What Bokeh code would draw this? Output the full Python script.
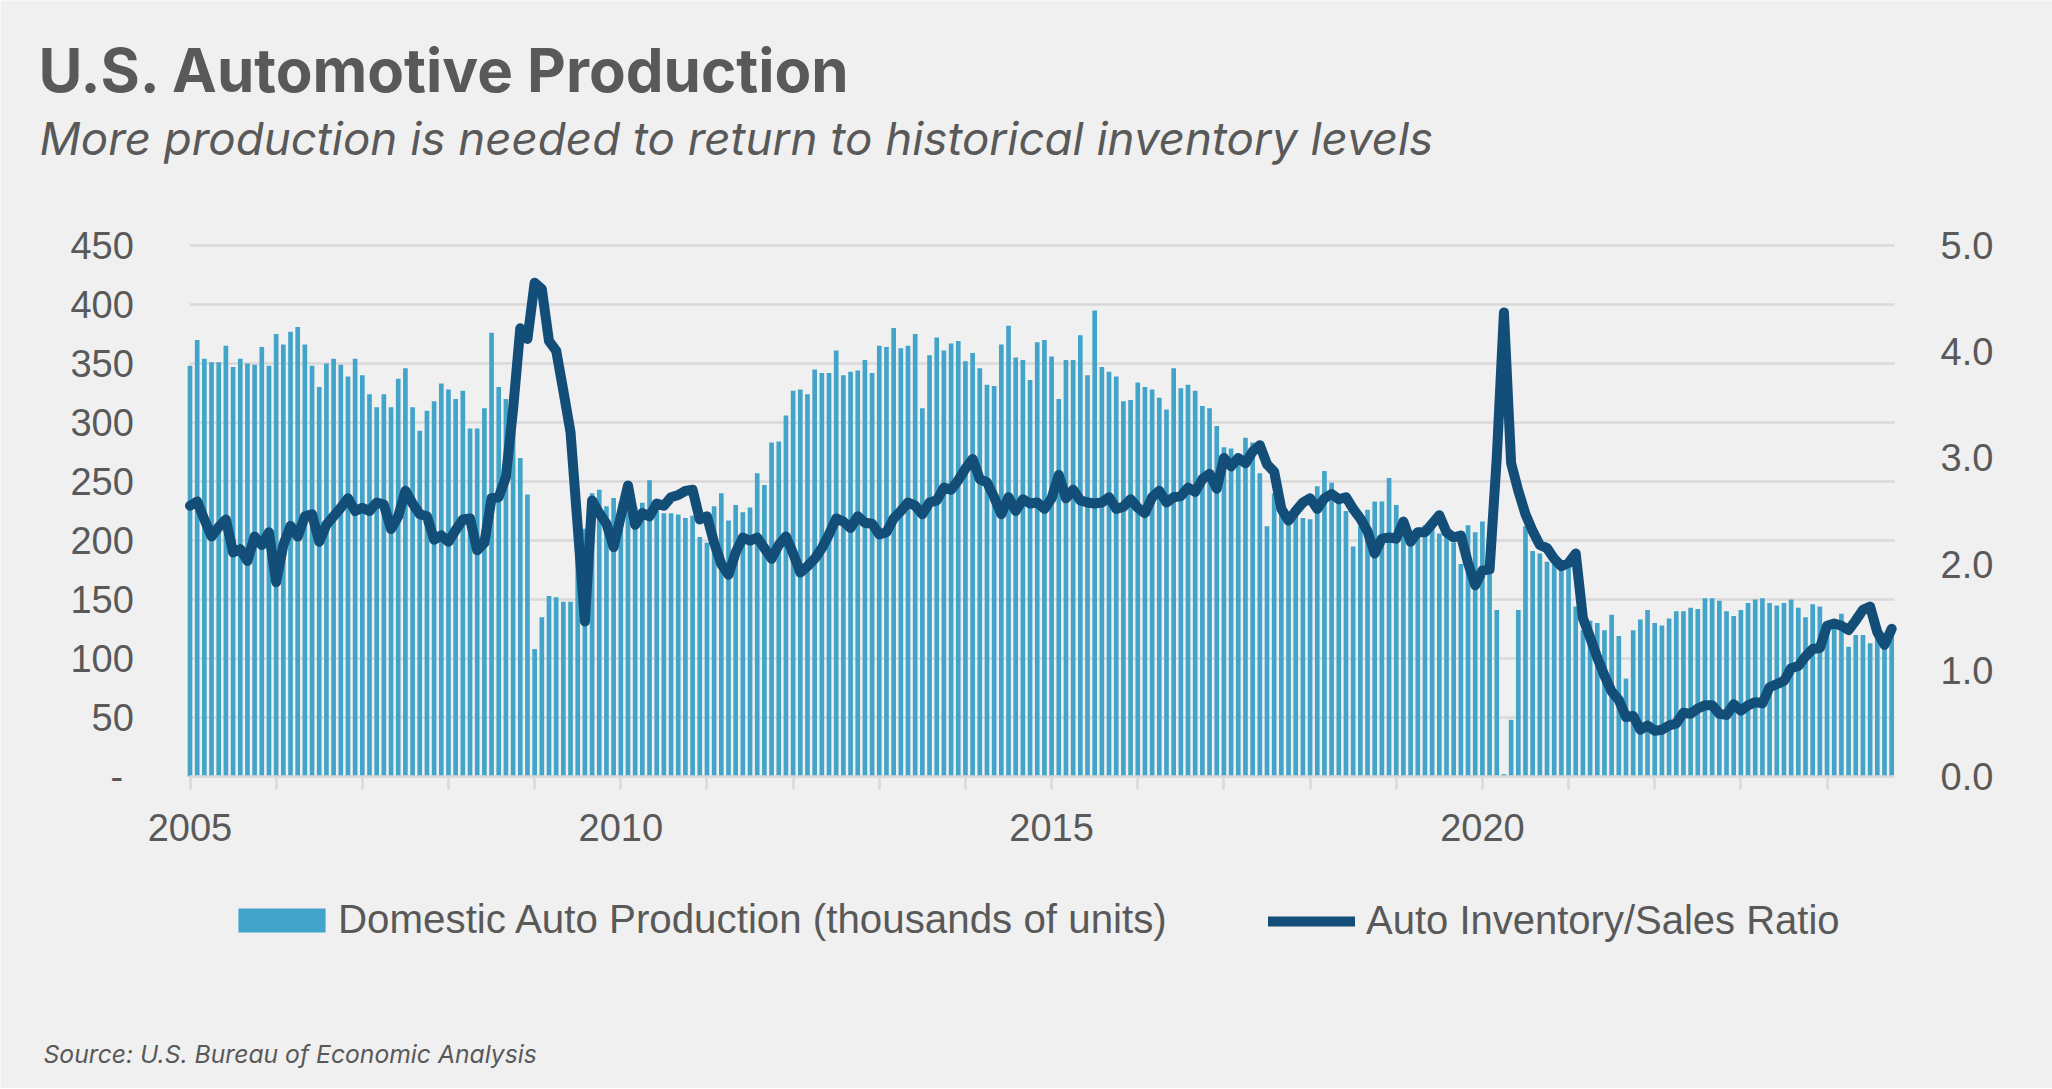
from bokeh.plotting import figure
from bokeh.models import (Range1d, LinearAxis, FixedTicker, Label, Legend, LegendItem,
                          ColumnDataSource, NumeralTickFormatter)
from bokeh.embed import file_html
from bokeh.resources import INLINE

# ---------------- data (monthly, Jan 2005 - Oct 2024) ----------------
start_year = 2005
n_months = 238
month_labels = [f"{start_year + i // 12}-{i % 12 + 1:02d}" for i in range(n_months)]
month_index = list(range(n_months))

production = [
    348, 370, 354, 351, 351, 365, 347, 354, 350, 349, 364, 348,   # 2005
    375, 366, 377, 381, 366, 348, 330, 350, 354, 349, 339, 354,   # 2006
    340, 324, 313, 324, 313, 337, 346, 313, 293, 310, 318, 333,   # 2007
    328, 320, 327, 295, 295, 312, 376, 330, 320, 300, 270, 239,   # 2008
    108, 135, 153, 152, 148, 148, 190, 210, 240, 243, 229, 236,   # 2009
    232, 240, 228, 232, 251, 225, 223, 223, 222, 219, 221, 203,   # 2010
    198, 229, 240, 217, 230, 224, 228, 257, 247, 283, 284, 306,   # 2011
    327, 328, 324, 345, 342, 342, 361, 340, 343, 344, 353, 342,   # 2012
    365, 364, 380, 363, 365, 375, 312, 357, 372, 361, 367, 369,   # 2013
    352, 359, 346, 332, 331, 366, 382, 355, 353, 336, 368, 370,   # 2014
    356, 320, 353, 353, 374, 340, 395, 347, 343, 339, 318, 319,   # 2015
    334, 330, 328, 321, 311, 346, 329, 332, 327, 314, 312, 297,   # 2016
    279, 278, 272, 287, 283, 257, 212, 240, 225, 215, 225, 219,   # 2017
    218, 246, 259, 249, 238, 225, 195, 212, 226, 233, 233, 253,   # 2018
    230, 204, 199, 202, 213, 211, 206, 204, 198, 180, 213, 207,   # 2019
    216, 195, 141, 2, 48, 141, 212, 191, 189, 182, 180, 178,      # 2020
    180, 144, 124, 132, 130, 124, 137, 119, 83, 124, 133, 141,    # 2021
    130, 128, 134, 140, 140, 143, 142, 151, 151, 149, 140, 136,   # 2022
    141, 147, 150, 151, 147, 145, 147, 150, 143, 135, 146, 144,   # 2023
    125, 127, 138, 110, 120, 120, 113, 122, 118, 122,             # 2024
]

inventory_sales_ratio = [
    2.55, 2.59, 2.42, 2.26, 2.35, 2.42, 2.11, 2.14, 2.03, 2.26, 2.18, 2.30,   # 2005
    1.83, 2.18, 2.36, 2.26, 2.45, 2.47, 2.21, 2.37, 2.45, 2.53, 2.62, 2.50,   # 2006
    2.53, 2.50, 2.58, 2.56, 2.33, 2.45, 2.69, 2.57, 2.47, 2.45, 2.23, 2.27,   # 2007
    2.21, 2.32, 2.42, 2.43, 2.13, 2.20, 2.62, 2.63, 2.82, 3.46, 4.22, 4.12,   # 2008
    4.65, 4.59, 4.10, 4.01, 3.63, 3.24, 2.35, 1.46, 2.60, 2.48, 2.38, 2.16,   # 2009
    2.45, 2.74, 2.37, 2.48, 2.45, 2.57, 2.55, 2.63, 2.65, 2.69, 2.70, 2.42,   # 2010
    2.45, 2.20, 2.00, 1.90, 2.11, 2.25, 2.22, 2.25, 2.15, 2.05, 2.18, 2.26,   # 2011
    2.10, 1.92, 1.98, 2.05, 2.15, 2.28, 2.43, 2.40, 2.34, 2.45, 2.39, 2.38,   # 2012
    2.28, 2.30, 2.43, 2.50, 2.58, 2.55, 2.47, 2.58, 2.60, 2.72, 2.70, 2.79,   # 2013
    2.90, 2.99, 2.80, 2.77, 2.63, 2.47, 2.63, 2.50, 2.61, 2.57, 2.58, 2.52,   # 2014
    2.62, 2.84, 2.62, 2.70, 2.60, 2.58, 2.57, 2.58, 2.63, 2.52, 2.54, 2.61,   # 2015
    2.53, 2.48, 2.63, 2.69, 2.58, 2.63, 2.64, 2.72, 2.68, 2.80, 2.85, 2.71,   # 2016
    3.00, 2.92, 3.00, 2.95, 3.06, 3.12, 2.94, 2.87, 2.52, 2.41, 2.50, 2.58,   # 2017
    2.62, 2.52, 2.62, 2.66, 2.61, 2.63, 2.52, 2.43, 2.31, 2.10, 2.24, 2.25,   # 2018
    2.24, 2.40, 2.21, 2.30, 2.30, 2.38, 2.46, 2.30, 2.25, 2.27, 2.01, 1.80,   # 2019
    1.94, 1.95, 3.00, 4.37, 2.95, 2.69, 2.47, 2.31, 2.18, 2.15, 2.05, 1.98,   # 2020
    2.01, 2.10, 1.49, 1.31, 1.12, 0.95, 0.80, 0.72, 0.56, 0.57, 0.44, 0.48,   # 2021
    0.43, 0.44, 0.48, 0.50, 0.60, 0.59, 0.64, 0.67, 0.67, 0.59, 0.58, 0.68,   # 2022
    0.62, 0.67, 0.70, 0.69, 0.84, 0.87, 0.90, 1.02, 1.04, 1.13, 1.20, 1.21,   # 2023
    1.42, 1.44, 1.42, 1.38, 1.47, 1.57, 1.60, 1.36, 1.24, 1.39,               # 2024
]

left_ticks = [0, 50, 100, 150, 200, 250, 300, 350, 400, 450]
right_ticks = [0, 1, 2, 3, 4, 5]
year_ticks = list(range(0, n_months, 12))
year_tick_labels = {0: "2005", 60: "2010", 120: "2015", 180: "2020"}

title_text = "U.S. Automotive Production"
subtitle_text = "More production is needed to return to historical inventory levels"
source_text = "Source: U.S. Bureau of Economic Analysis"
bar_label = "Domestic Auto Production (thousands of units)"
line_label = "Auto Inventory/Sales Ratio"

# ---------------- style / layout ----------------
BG = "#f0f0f0"
BAR = "#43a4c9"
LINE = "#134e78"
GRID = "#d9d9d9"
TEXT = "#595959"
TICK_FONT = "Liberation Sans"
TITLE_FONT = "Inter"

W, H = 2052, 1088
# plot area in page pixels
PX_M0, PX_PER_MONTH = 189.5, 7.18        # x pixel of first month, pixels per month
PY_ZERO, PX_PER_UNIT = 776.0, 531.0 / 450.0
X_MIN, X_MAX = -0.03, 237.4              # plot-area extent in months
LEFT_MAX, RIGHT_MAX = 450.0, 5.0

x_start = -PX_M0 / PX_PER_MONTH
x_end = (W - PX_M0) / PX_PER_MONTH
y_top = PY_ZERO / PX_PER_UNIT
y_bot = (PY_ZERO - H) / PX_PER_UNIT
ratio_scale = RIGHT_MAX / LEFT_MAX

src = ColumnDataSource(dict(m=month_index, label=month_labels,
                            prod=production, ratio=inventory_sales_ratio))

p = figure(width=W, height=H, output_backend="svg", toolbar_location=None,
           x_range=Range1d(x_start, x_end), y_range=Range1d(y_bot, y_top), title=None,
           min_border=0, min_border_left=0, min_border_right=0,
           min_border_top=0, min_border_bottom=0,
           background_fill_color=BG, border_fill_color=BG, outline_line_color=None)
p.extra_y_ranges = {"ratio": Range1d(y_bot * ratio_scale, y_top * ratio_scale)}
p.grid.visible = False

# horizontal grid lines across the plot area only
p.segment(x0=[X_MIN] * len(left_ticks), x1=[X_MAX] * len(left_ticks),
          y0=left_ticks, y1=left_ticks, line_color=GRID, line_width=2.5)

bars = p.vbar(x="m", top="prod", width=0.65, source=src, fill_color=BAR, line_color=None)
line = p.line(x="m", y="ratio", source=src, y_range_name="ratio", line_color=LINE,
              line_width=10, line_join="round", line_cap="round")

# left axis
yl = p.yaxis[0]
yl.fixed_location = X_MIN
yl.ticker = FixedTicker(ticks=left_ticks)
yl.major_label_overrides = {0: "-\u00a0"}
yl.axis_line_color = None
yl.major_tick_line_color = None
yl.minor_tick_line_color = None
yl.major_label_text_font = TICK_FONT
yl.major_label_text_font_size = "38px"
yl.major_label_text_color = TEXT
yl.major_label_standoff = 50

# right axis
yr = LinearAxis(y_range_name="ratio", ticker=FixedTicker(ticks=right_ticks),
                formatter=NumeralTickFormatter(format="0.0"), fixed_location=X_MAX)
yr.axis_line_color = None
yr.major_tick_line_color = None
yr.minor_tick_line_color = None
yr.major_label_text_font = TICK_FONT
yr.major_label_text_font_size = "38px"
yr.major_label_text_color = TEXT
yr.major_label_standoff = 40
p.add_layout(yr, "right")

# x axis
xa = p.xaxis[0]
xa.fixed_location = 0
xa.bounds = (X_MIN, X_MAX)
xa.ticker = FixedTicker(ticks=year_ticks)
xa.major_label_overrides = {t: year_tick_labels.get(t, "") for t in year_ticks}
xa.axis_line_color = GRID
xa.axis_line_width = 2.5
xa.major_tick_line_color = GRID
xa.major_tick_line_width = 2.5
xa.major_tick_in = 0
xa.major_tick_out = 13
xa.minor_tick_line_color = None
xa.major_label_text_font = TICK_FONT
xa.major_label_text_font_size = "38px"
xa.major_label_text_color = TEXT
xa.major_label_standoff = 24

# legends (area swatches are drawn inset by 10%, so the bar swatch box is larger)
legend_common = dict(orientation="horizontal", padding=0, margin=0,
                     border_line_color=None, background_fill_alpha=0,
                     label_text_font=TICK_FONT, label_text_color=TEXT, label_height=40)
legend_bar = Legend(items=[LegendItem(label=bar_label, renderers=[bars])],
                    location=(227, H - 943), glyph_width=109, glyph_height=30,
                    label_standoff=2, label_text_font_size="40.3px", **legend_common)
legend_line = Legend(items=[LegendItem(label=line_label, renderers=[line])],
                     location=(1268, H - 943), glyph_width=87, glyph_height=30,
                     label_standoff=11, label_text_font_size="40px", **legend_common)
p.add_layout(legend_bar, "center")
p.add_layout(legend_line, "center")

# texts (screen units: from the left / bottom of the canvas-sized frame)
p.add_layout(Label(x=38, y=H - 69, x_units="screen", y_units="screen", text=title_text,
                   text_font=TITLE_FONT, text_font_style="bold", text_font_size="60px",
                   text_color=TEXT, text_baseline="alphabetic"))
p.add_layout(Label(x=39, y=H - 138, x_units="screen", y_units="screen", text=subtitle_text,
                   text_font=TITLE_FONT, text_font_style="italic", text_font_size="45.7px",
                   text_color=TEXT, text_baseline="alphabetic"))
p.add_layout(Label(x=43, y=H - 1053, x_units="screen", y_units="screen", text=source_text,
                   text_font=TITLE_FONT, text_font_style="italic", text_font_size="24.7px",
                   text_color=TEXT, text_baseline="alphabetic"))

open("out.html", "w").write(file_html(p, INLINE))
